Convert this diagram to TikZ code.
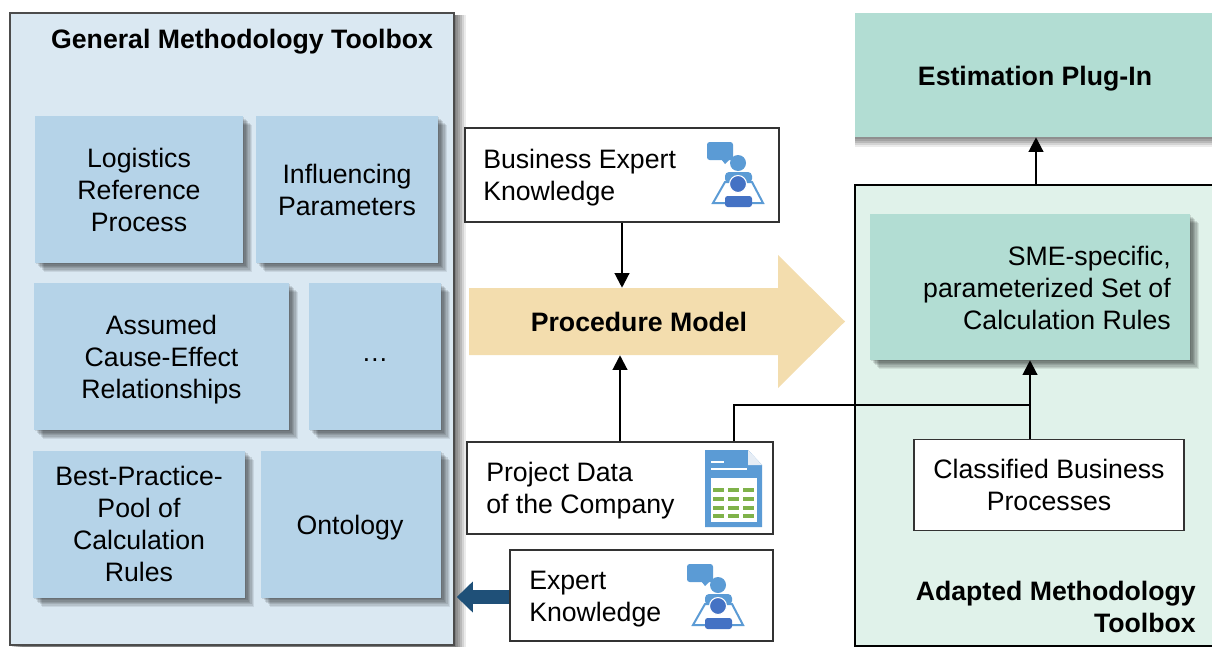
\documentclass[tikz,border=0pt]{standalone}
\usepackage{fontspec}
\setmainfont{Liberation Sans}
\usetikzlibrary{arrows.meta,calc}
\definecolor{panelblue}{HTML}{DAE8F2}
\definecolor{cardblue}{HTML}{B5D3E8}
\definecolor{panelgreen}{HTML}{E0F2EA}
\definecolor{cardgreen}{HTML}{B2DDD3}
\definecolor{procfill}{HTML}{F3DDAE}
\definecolor{darkarrow}{HTML}{1F5078}
\definecolor{iconlight}{HTML}{5B9BD5}
\definecolor{icondark}{HTML}{4472C4}
\definecolor{icongreen}{HTML}{7FB24A}
\definecolor{iconfold}{HTML}{E6EDF5}
\tikzset{
  shadowlayer/.style n args={3}{preaction={draw=none,fill=black,fill opacity=#3,transform canvas={shift={(#1,#2)}}}},
  softshadow/.style={
    shadowlayer={7pt}{-7pt}{.08},
    shadowlayer={6pt}{-6pt}{.09},
    shadowlayer={5pt}{-5pt}{.10},
    shadowlayer={4pt}{-4pt}{.10},
    shadowlayer={3pt}{-3pt}{.10},
    shadowlayer={2pt}{-2pt}{.10},
    shadowlayer={1pt}{-1pt}{.10}},
  downshadow/.style={
    shadowlayer={0pt}{-7.5pt}{.08},
    shadowlayer={0pt}{-6pt}{.10},
    shadowlayer={0pt}{-4.5pt}{.12},
    shadowlayer={0pt}{-3pt}{.12},
    shadowlayer={0pt}{-1.5pt}{.12}},
  panelshadow/.style={
    shadowlayer={9pt}{-1.5pt}{.08},
    shadowlayer={7.5pt}{-1.5pt}{.10},
    shadowlayer={6pt}{-1.5pt}{.12},
    shadowlayer={4.5pt}{-1.5pt}{.12},
    shadowlayer={3pt}{-1.5pt}{.12},
    shadowlayer={1.5pt}{-1.5pt}{.12}},
  basetext/.style={font=\fontsize{20}{24}\selectfont,text=black,inner sep=0pt},
  card/.style={basetext,softshadow,fill=cardblue,align=center},
  greencard/.style={basetext,fill=cardgreen},
  infobox/.style={basetext,draw=black!80,line width=.9pt,fill=white},
  bluepanel/.style={draw=black!70,line width=1.2pt,inner sep=0pt},
  greenpanel/.style={draw=black,line width=1.6pt,inner sep=0pt},
  boldtext/.style={basetext,font=\fontsize{20}{24}\selectfont\bfseries},
  link/.style={draw=black,line width=1.6pt},
  linkarrow/.style={link,-{Triangle[length=11pt,width=11pt]}}
}
\newcommand{\personicon}[2]{%
  \begin{scope}[shift={(#1,#2)}]
    \fill[iconlight,rounded corners=2pt] (-31,-21) rectangle (-5,-3);
    \fill[iconlight] (-17,-4) -- (-13,1) -- (-8,-4) -- cycle;
    \fill[iconlight] (0,0) circle (8);
    \fill[iconlight,rounded corners=3pt] (-13,20) -- (-13,9) -- (14,9) -- (14,20) -- cycle;
    \draw[iconlight,line width=1.5pt,fill=white] (-13,19) -- (-25,40) -- (25,40) -- (14,19) -- cycle;
    \fill[icondark,draw=white,line width=.8pt] (0,21) circle (8.5);
    \fill[icondark,rounded corners=2pt] (-13,44) -- (-13,33) -- (14,33) -- (14,44) -- cycle;
  \end{scope}}
\begin{document}
\begin{tikzpicture}[x=.75pt,y=-.75pt]
\useasboundingbox (0,0) rectangle (1212,646);
\begin{scope}
\clip (0,0) rectangle (1212,646);
% panels
\node[bluepanel,panelshadow,fill=panelblue,minimum width=333pt,minimum height=474pt] (general) at (232,329) {};
\node[boldtext,anchor=base] (generaltitle) at (242,48) {General Methodology Toolbox};
\node[greenpanel,fill=panelgreen,minimum width=271.5pt,minimum height=345.75pt] (adapted) at (1036,415.5) {};
\node[greencard,downshadow,minimum width=271.5pt,minimum height=93pt] (plugin) at (1036,75) {};
\node[boldtext] (plugintext) at (1035,79) {Estimation Plug-In};
% blue cards
\node[card,minimum width=156pt,minimum height=110.25pt] (logistics) at (139,189.5) {Logistics\\Reference\\Process};
\node[card,minimum width=136.5pt,minimum height=110.25pt] (influencing) at (347,189.5) {Influencing\\Parameters};
\node[card,minimum width=191.25pt,minimum height=110.25pt] (assumed) at (161.5,356.5) {};
\node[basetext,align=center] (assumedtext) at (161.5,359.5) {Assumed\\Cause-Effect\\Relationships};
\node[card,minimum width=99pt,minimum height=110.25pt] (more) at (375,356.5) {};
\node[basetext] (moretext) at (375,360.5) {…};
\node[card,minimum width=159pt,minimum height=110.25pt] (bestpractice) at (139,524) {Best-Practice-\\Pool of\\Calculation\\Rules};
\node[card,minimum width=135pt,minimum height=110.25pt] (ontology) at (351,524) {};
\node[basetext] (ontologytext) at (350,528) {Ontology};
% procedure arrow
\fill[procfill] (469,288) -- (778,288) -- (778,255) -- (845,321.5) -- (778,388) -- (778,355) -- (469,355) -- cycle;
\node[minimum width=231.75pt,minimum height=50.25pt,inner sep=0pt] (procbody) at (623.5,321.5) {};
\node[boldtext] (proctext) at (639,322) {Procedure Model};
% info boxes
\node[infobox,minimum width=235.5pt,minimum height=70.5pt] (business) at (622,175) {};
\node[basetext,align=left,anchor=west] (businesstext) at (483,178) {Business Expert\\Knowledge};
\node[infobox,minimum width=229.5pt,minimum height=69pt] (project) at (620,488) {};
\node[basetext,align=left,anchor=west] (projecttext) at (486,491) {Project Data\\of the Company};
\node[infobox,minimum width=197.25pt,minimum height=68.25pt] (expert) at (641.5,595.5) {};
\node[basetext,align=left,anchor=west] (experttext) at (529,599) {Expert\\Knowledge};
% green side
\node[greencard,softshadow,minimum width=240pt,minimum height=109.5pt] (sme) at (1030,287) {};
\node[basetext,align=right,anchor=east] (smetext) at (1171,288) {SME-specific,\\parameterized Set of\\Calculation Rules};
\node[infobox,minimum width=202.5pt,minimum height=68.25pt,align=center] (classified) at (1049,485) {Classified Business\\Processes};
\node[boldtext,align=right,anchor=east] (adaptedtitle) at (1196,607) {Adapted Methodology\\Toolbox};
% connectors
\draw[linkarrow] (business.south) -- (procbody.north -| business.south);
\draw[linkarrow] (project.north) -- (procbody.south -| project.north);
\draw[linkarrow] ([xshift=-14.25pt]classified.north) -- (sme.south);
\draw[link] ([xshift=85.5pt]project.north) |- ([yshift=-33.75pt]sme.south);
\draw[linkarrow] (adapted.north) -- (plugin.south -| adapted.north);
\draw[darkarrow,line width=10.5pt,shorten >=1.5pt,-{Triangle[length=12pt,width=22.5pt]}] (expert.west |- 0,597) -- (general.east |- 0,597);
% icons
\personicon{738}{163}
\personicon{718}{585}
\fill[iconlight] (705,450) -- (748,450) -- (762,465) -- (762,527) -- (705,527) -- cycle;
\fill[iconfold] (748,450) -- (762,465) -- (748,465) -- cycle;
\draw[white,line width=1pt] (711,462) -- (724,462) (711,469) -- (747,469);
\fill[white] (711,478) rectangle (757,522);
\foreach \cx in {713,728,743}\foreach \cy in {488,497,506,514}
  \fill[icongreen] (\cx,\cy) rectangle ++(11,4);
\end{scope}
\end{tikzpicture}
\end{document}
